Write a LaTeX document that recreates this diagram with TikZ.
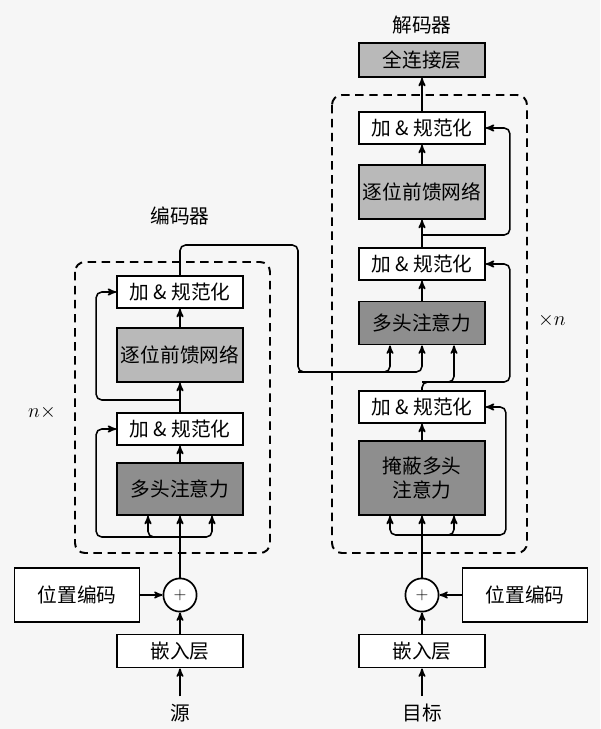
\documentclass[tikz,border=0pt]{standalone}
\usepackage{fontspec}
\setmainfont{Noto Sans CJK SC}
\usepackage{amsmath}
\usepackage{tikz}
\usetikzlibrary{arrows}

\definecolor{bgcol}{HTML}{F6F6F6}
\definecolor{darkbox}{HTML}{8E8E8E}
\definecolor{lightbox}{HTML}{B9B9B9}

\begin{document}
\begin{tikzpicture}[>=stealth',x=0.025cm,y=-0.025cm,
    font=\fontsize{14}{17}\selectfont,
    box/.style={draw,line width=1.2pt,fill=white,minimum width=3.15cm,inner sep=0pt,align=center},
    norm/.style={box,minimum height=0.8cm},
    ffn/.style={box,fill=lightbox,minimum height=1.35cm},
    attn/.style={box,fill=darkbox},
    plus/.style={draw,circle,line width=1.2pt,fill=white,minimum size=0.83cm,inner sep=0pt,font=\large},
    link/.style={line width=1.1pt,rounded corners=4pt},
    block/.style={dashed,line width=1.4pt,dash pattern=on 6pt off 4pt,rounded corners=7pt}]
  \fill[bgcol] (0,0) rectangle (600,729);
  \useasboundingbox (0,0) rectangle (600,729);

  % encoder
  \draw[block] (75,262) rectangle (270,553);
  \node (encl) at (180,216) {编码器};
  \node (nl) at (42,412) {$n\times$};
  \node (srcl) at (180,713) {源};
  \node[box,minimum height=0.83cm] (embE) at (180,651) {嵌入层};
  \node[box,minimum width=3.13cm,minimum height=1.35cm] (posE) at (77,595) {位置编码};
  \node[plus] (plusE) at (180,595) {$+$};
  \node[attn,minimum height=1.3cm] (mhaE) at (180,489) {多头注意力};
  \node[norm] (anE1) at (180,429) {加 \& 规范化};
  \node[ffn] (ffnE) at (180,355) {逐位前馈网络};
  \node[norm] (anE2) at (180,292) {加 \& 规范化};
  \coordinate (es) at (180,537);
  \coordinate (ej) at (180,400);
  \coordinate (eout) at (298,245);
  \coordinate (xs) at (298,372);

  % decoder
  \draw[block] (332,95) rectangle (527,553);
  \node (decl) at (422,25) {解码器};
  \node (xl) at (552,320) {$\times n$};
  \node (tgtl) at (422,713) {目标};
  \node[box,minimum height=0.83cm] (embD) at (422,651) {嵌入层};
  \node[box,minimum width=3.13cm,minimum height=1.35cm] (posD) at (525,595) {位置编码};
  \node[plus] (plusD) at (422,595) {$+$};
  \node[attn,minimum height=1.85cm] (mmhaD) at (422,478) {掩蔽多头\\注意力};
  \node[norm] (anD1) at (422,407) {加 \& 规范化};
  \node[attn,minimum height=1.08cm] (mhaD) at (422,323) {多头注意力};
  \node[norm] (anD2) at (422,264) {加 \& 规范化};
  \node[ffn] (ffnD) at (422,192) {逐位前馈网络};
  \node[norm] (anD3) at (422,128) {加 \& 规范化};
  \node[box,fill=lightbox,minimum height=0.85cm] (fc) at (422,60) {全连接层};
  \coordinate (ds) at (422,535);
  \coordinate (dq) at (422,382);
  \coordinate (dj) at (422,235);

  \path[->,link]
  (srcl.north) edge[shorten <=2pt] (embE)
  (embE) edge (plusE)
  (posE) edge (plusE)
  (plusE) edge (mhaE)
  (mhaE) edge (anE1)
  (anE1) edge (ffnE)
  (ffnE) edge (anE2)

  (tgtl.north) edge[shorten <=2pt] (embD)
  (embD) edge (plusD)
  (posD) edge (plusD)
  (plusD) edge (mmhaD)
  (mmhaD) edge (anD1)
  (mhaD) edge (anD2)
  (anD2) edge (ffnD)
  (ffnD) edge (anD3)
  (anD3) edge (fc)
  ;

  % residual and attention inputs
  \draw[->,link] (es) -| ([xshift=-0.8cm]mhaE.south);
  \draw[->,link] (es) -| ([xshift=0.8cm]mhaE.south);
  \draw[->,link] (es) -| ([xshift=-0.5cm]anE1.west) -- (anE1.west);
  \draw[->,link] (ej) -| ([xshift=-0.5cm]anE2.west) -- (anE2.west);
  \draw[->,link] (anE2.north) |- (eout) -- (xs) -| ([xshift=-0.8cm]mhaD.south);
  \draw[->,link] (xs) -| (mhaD.south);

  \draw[->,link] (ds) -| ([xshift=-0.8cm]mmhaD.south);
  \draw[->,link] (ds) -| ([xshift=0.8cm]mmhaD.south);
  \draw[->,link] (ds) -| ([xshift=0.5cm]anD1.east) -- (anD1.east);
  \draw[->,link] (anD1.north) -- (dq) -| ([xshift=0.8cm]mhaD.south);
  \draw[->,link] (dq) -| ([xshift=0.6cm]anD2.east) -- (anD2.east);
  \draw[->,link] (dj) -| ([xshift=0.6cm]anD3.east) -- (anD3.east);
\end{tikzpicture}
\end{document}
